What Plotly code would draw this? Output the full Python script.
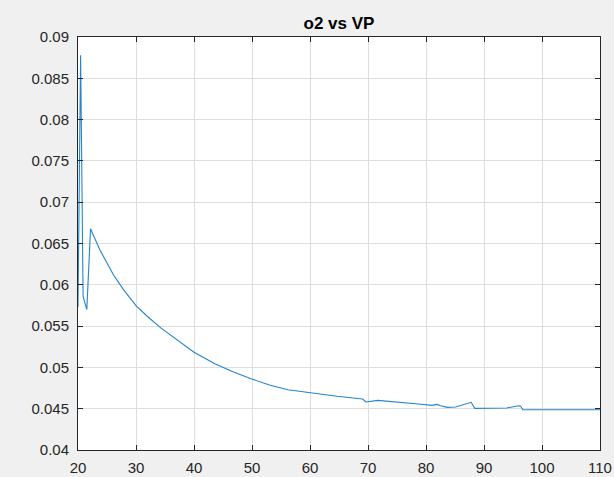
import plotly.graph_objects as go

# data
vp = [20.0, 20.45, 20.88, 21.52, 22.16, 23.74, 26.08, 27.84, 30.0, 31.93, 34.27,
      36.61, 40.0, 43.6, 46.5, 49.94, 53.0, 56.2, 59.94, 64.68, 69.06, 69.65,
      71.7, 74.6, 78.7, 81.05, 81.9, 82.5, 83.7, 85.1, 87.8, 88.4, 90.4, 93.9,
      95.96, 96.3, 96.7, 110.0]
o2 = [0.0573, 0.0878, 0.0586, 0.0570, 0.06678, 0.06427, 0.06124, 0.05942, 0.05748,
      0.05619, 0.05478, 0.05357, 0.05183, 0.05045, 0.04953, 0.0486, 0.04787,
      0.0473, 0.04694, 0.0465, 0.04617, 0.04581, 0.04601, 0.04585, 0.04557,
      0.0454, 0.04552, 0.04536, 0.04516, 0.0452, 0.04577, 0.04504, 0.04504,
      0.04508, 0.04536, 0.04532, 0.04488, 0.04488]

x_ticks = [20, 30, 40, 50, 60, 70, 80, 90, 100, 110]
y_ticks = [0.04, 0.045, 0.05, 0.055, 0.06, 0.065, 0.07, 0.075, 0.08, 0.085, 0.09]
y_labels = ["0.04", "0.045", "0.05", "0.055", "0.06", "0.065", "0.07", "0.075", "0.08", "0.085", "0.09"]

fig = go.Figure()
fig.add_trace(go.Scatter(x=vp, y=o2, mode="lines",
                         line=dict(color="#2484cc", width=1.1), showlegend=False))

axis_common = dict(
    showline=True, linecolor="#262626", linewidth=1, mirror="ticks",
    ticks="inside", ticklen=5, tickcolor="#262626", tickwidth=1,
    showgrid=True, gridcolor="#dedede", gridwidth=1, zeroline=False,
    automargin=False,
    tickfont=dict(family="Liberation Sans, Arial, sans-serif", size=15, color="#262626"),
)

fig.update_layout(
    width=614, height=477,
    margin=dict(l=78, r=14, t=37, b=27),
    paper_bgcolor="#f0f0f0", plot_bgcolor="#ffffff",
    title=dict(text="<b>o2 vs VP</b>", x=0.5, xanchor="center", xref="paper",
               y=1 - 23 / 477, yanchor="middle",
               font=dict(family="Liberation Sans, Arial, sans-serif", size=17, color="#000000")),
    xaxis=dict(range=[20, 110], tickvals=x_ticks, ticktext=[str(v) for v in x_ticks],
               ticklabelstandoff=4, **axis_common),
    yaxis=dict(range=[0.04, 0.09], tickvals=y_ticks, ticktext=y_labels,
               ticklabelstandoff=5, **axis_common),
)

fig.write_html("out.html",
               config={"displayModeBar": False},
               post_script="document.body.style.margin='0';document.body.style.overflow='hidden';")
